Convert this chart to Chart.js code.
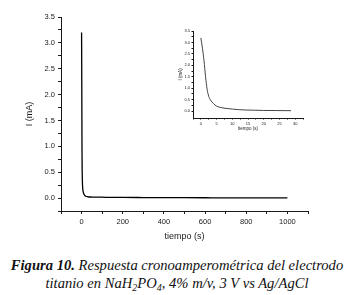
<!DOCTYPE html>
<html>
<head>
<meta charset="utf-8">
<script src="https://cdn.jsdelivr.net/npm/chart.js@4/dist/chart.umd.min.js"></script>
<style>
  body { margin: 0; background: #fff; }
  #wrap { position: relative; width: 354px; height: 295px; }
  #main { position: absolute; left: 0; top: 0; }
  #inset { position: absolute; left: 170px; top: 22px; }
  #cap {
    position: absolute; left: 0; top: 256px; width: 354px;
    text-align: center; font-family: "Liberation Serif", serif;
    font-style: italic; font-size: 14.6px; line-height: 18px; color: #111;
    white-space: nowrap;
  }
  #cap sub { font-size: 10px; line-height: 0; vertical-align: -3px; }
</style>
</head>
<body>
<div id="wrap">
  <canvas id="main" width="354" height="250"></canvas>
  <canvas id="inset" width="140" height="113"></canvas>
  <div id="cap"><b>Figura 10.</b> Respuesta cronoamperométrica del electrodo<br>titanio en NaH<sub>2</sub>PO<sub>4</sub>, 4% m/v, 3 V vs Ag/AgCl</div>
</div>
<script>
// main curve, tiempo (s) vs I (mA)
const mainTime = [0, 1, 2, 3, 5, 8, 10, 15, 20, 30, 50, 80, 120, 200, 300, 400, 500, 600, 700, 800, 900, 1000];
const mainCurrent = [3.2, 2.2, 0.95, 0.5, 0.22, 0.12, 0.09, 0.05, 0.035, 0.025, 0.02, 0.018, 0.015, 0.012, 0.01, 0.008, 0.007, 0.006, 0.005, 0.005, 0.004, 0.004];

// inset: first ~30 s
const insetTime = [0, 0.5, 1, 1.5, 2, 2.5, 3, 4, 5, 6, 7, 8, 10, 12, 14, 17, 20, 24, 28.7];
const insetCurrent = [3.2, 2.75, 2.2, 1.5, 0.95, 0.65, 0.5, 0.33, 0.22, 0.17, 0.14, 0.12, 0.09, 0.065, 0.05, 0.04, 0.03, 0.025, 0.02];

const xLabelsMain = [0, 200, 400, 600, 800, 1000];
const yLabels = [0, 0.5, 1, 1.5, 2, 2.5, 3, 3.5];
const xLabelsInset = [0, 5, 10, 15, 20, 25, 30];

const axisColor = '#1a1a1a';

function points(xs, ys) {
  return xs.map((x, i) => ({ x: x, y: ys[i] }));
}

function snapTicks(step) {
  return function (scale) {
    scale.ticks = scale.ticks.filter(t => Math.abs(t.value / step - Math.round(t.value / step)) < 1e-6);
  };
}

function makeChart(id, data, o) {
  return new Chart(document.getElementById(id), {
    type: 'line',
    data: {
      datasets: [{
        data: data,
        borderColor: o.lineColor,
        borderWidth: o.lineWidth,
        pointRadius: 0,
        cubicInterpolationMode: 'monotone',
        fill: false
      }]
    },
    options: {
      responsive: false,
      animation: false,
      layout: { padding: o.padding },
      plugins: { legend: { display: false }, tooltip: { enabled: false } },
      scales: {
        x: {
          type: 'linear',
          min: o.xMin, max: o.xMax,
          afterFit: s => { s.height = o.xHeight; },
          grid: { drawOnChartArea: false, tickLength: o.tickLen, color: axisColor, tickColor: axisColor },
          border: { color: axisColor, width: 1 },
          ticks: {
            stepSize: o.xStep,
            autoSkip: false,
            maxRotation: 0,
            padding: o.tickPad,
            color: axisColor,
            font: { family: 'Liberation Sans', size: o.tickFont },
            callback: v => o.xLabels.some(l => Math.abs(l - v) < 1e-6) ? String(v) : ''
          },
          title: {
            display: true, text: 'tiempo (s)', color: axisColor,
            font: { family: 'Liberation Sans', size: o.titleFont },
            padding: { top: 0, bottom: o.xTitlePad }
          }
        },
        y: {
          min: o.yMin, max: 3.5,
          afterBuildTicks: snapTicks(0.25),
          afterFit: s => { s.width = o.yWidth; },
          grid: { drawOnChartArea: false, tickLength: o.tickLen, color: axisColor, tickColor: axisColor },
          border: { color: axisColor, width: 1 },
          ticks: {
            stepSize: 0.25,
            autoSkip: false,
            padding: o.tickPad,
            color: axisColor,
            font: { family: 'Liberation Sans', size: o.tickFont },
            callback: v => yLabels.some(l => Math.abs(l - v) < 1e-6) ? v.toFixed(1) : ''
          },
          title: {
            display: true, text: 'I (mA)', color: axisColor,
            font: { family: 'Liberation Sans', size: o.titleFont },
            padding: { top: o.yTitlePad, bottom: 0 }
          }
        }
      }
    }
  });
}

makeChart('main', points(mainTime, mainCurrent), {
  lineColor: '#000', lineWidth: 1.3,
  padding: { top: 17, right: 46, left: 0, bottom: 0 },
  xMin: -100, xMax: 1100, xStep: 100, xLabels: xLabelsMain,
  yMin: -0.25,
  xHeight: 39, yWidth: 61,
  tickLen: 3, tickPad: 3, tickFont: 7.5, titleFont: 9,
  xTitlePad: 8.5, yTitlePad: 24
});

makeChart('inset', points(insetTime, insetCurrent), {
  lineColor: '#444', lineWidth: 1,
  padding: { top: 9, right: 7, left: 0, bottom: 0 },
  xMin: -2.5, xMax: 32.5, xStep: 2.5, xLabels: xLabelsInset,
  yMin: -0.3,
  xHeight: 17, yWidth: 23,
  tickLen: 1.5, tickPad: 1.5, tickFont: 4, titleFont: 4.5,
  xTitlePad: 4, yTitlePad: 8
});
</script>
</body>
</html>
